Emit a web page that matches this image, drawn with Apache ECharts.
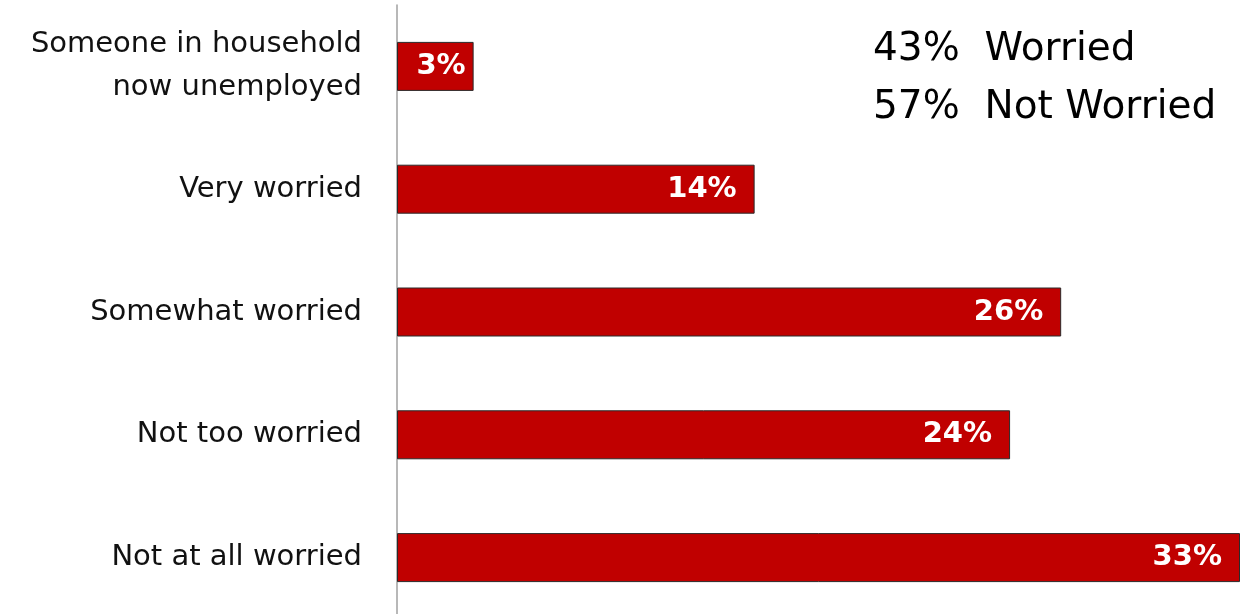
<!DOCTYPE html>
<html>
<head>
<meta charset="utf-8">
<script src="https://cdn.jsdelivr.net/npm/echarts@6/dist/echarts.min.js"></script>
<style>html,body{margin:0;padding:0;background:#fff;overflow:hidden}#c{width:1248px;height:620px}</style>
</head>
<body>
<div id="c"></div>
<script>
const categories = ["Someone in household\nnow unemployed", "Very worried", "Somewhat worried", "Not too worried", "Not at all worried"];
const values = [3, 14, 26, 24, 33];
const summaryLines = ["43%  Worried", "57%  Not Worried"];

const chart = echarts.init(document.getElementById('c'));
const FONT = '"DejaVu Sans", sans-serif';
chart.setOption({
  animation: false,
  grid: {left: 397, right: 8, top: 5, bottom: 1},
  xAxis: {type: 'value', min: 0, max: 33, show: false},
  yAxis: {
    type: 'category', data: categories, inverse: true,
    axisLine: {show: true, lineStyle: {color: '#a0a0a0', width: 1.5}},
    axisTick: {show: false},
    axisLabel: {fontSize: 29, color: '#111', fontFamily: FONT, margin: 35, lineHeight: 43, align: 'right'}
  },
  series: [{
    type: 'bar', barWidth: 49,
    data: values.map((v, i) => ({value: v, label: {distance: i === 0 ? 8 : 18}})),
    itemStyle: {color: '#C00000', borderColor: '#2a2a2a', borderWidth: 1},
    label: {show: true, position: 'insideRight', formatter: '{c}%', color: '#fff', fontWeight: 'bold', fontSize: 29, fontFamily: FONT}
  }],
  graphic: summaryLines.map((t, i) => ({
    type: 'text', left: 873, top: 30 + i * 58,
    style: {text: t, fontSize: 39, fill: '#000', fontFamily: FONT}
  }))
});
</script>
</body>
</html>
